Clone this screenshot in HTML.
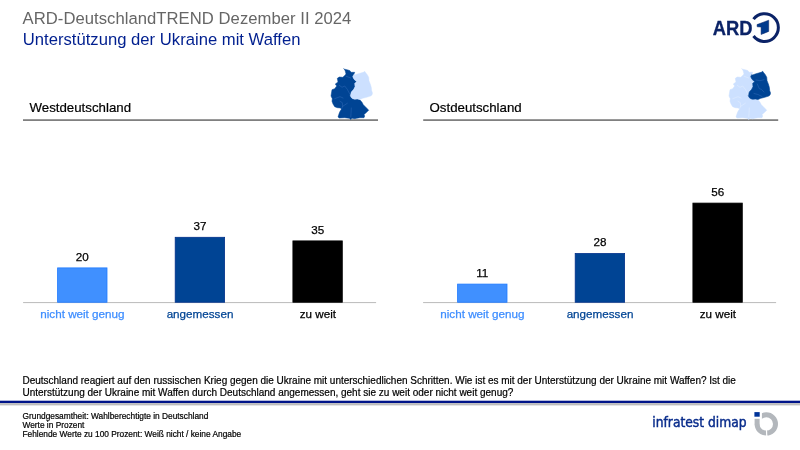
<!DOCTYPE html>
<html lang="de">
<head>
<meta charset="utf-8">
<title>ARD-DeutschlandTREND Dezember II 2024 – Unterstützung der Ukraine mit Waffen</title>
<style>
html,body{margin:0;padding:0;background:#fff;}
body{width:800px;height:450px;overflow:hidden;}
svg{display:block;}
text{font-family:"Liberation Sans",sans-serif;}
.t1{font-size:16.67px;fill:#666;}
.t2{font-size:16.67px;fill:#001f8f;}
.sec{font-size:13.28px;fill:#000;stroke:#000;stroke-width:0.2px;}
.val{font-size:11.67px;fill:#000;text-anchor:middle;stroke:#000;stroke-width:0.25px;}
.cat{font-size:11.67px;text-anchor:middle;fill:currentColor;stroke:currentColor;stroke-width:0.25px;}
.q{font-size:10px;fill:#000;stroke:#000;stroke-width:0.2px;}
.fn{font-size:8.33px;fill:#000;stroke:#000;stroke-width:0.2px;}
</style>
</head>
<body>
<svg width="800" height="450" viewBox="0 0 800 450">
<rect width="800" height="450" fill="#fff"/>

<!-- titles -->
<text class="t1" x="22.6" y="0" transform="translate(0 24.1) scale(1 1.045)" textLength="328.8" lengthAdjust="spacing">ARD-DeutschlandTREND Dezember II 2024</text>
<text class="t2" x="22.8" y="0" transform="translate(0 44.5) scale(1 1.045)">Unterstützung der Ukraine mit Waffen</text>

<!-- ARD logo -->
<g id="ardlogo">
<text x="712.8" y="34.7" style="font-size:20px;font-weight:bold;fill:#0b2367;stroke:#0b2367;stroke-width:0.3px;" textLength="39.8" lengthAdjust="spacingAndGlyphs">ARD</text>
<path d="M753.5 19.2 A13.85 13.85 0 1 1 753.5 36.0" fill="none" stroke="#0b2367" stroke-width="3"/>
<path d="M757 24.6 L768.7 20.2 L768.7 31.4 L761.1 34.5 L761.1 27.0 L757.2 26.8 Z" fill="#003a8c" stroke="#0b2367" stroke-width="0.5" stroke-linejoin="miter"/>
</g>

<!-- section headers -->
<text class="sec" x="29.5" y="111.5">Westdeutschland</text>
<rect x="23" y="119.25" width="355" height="1.7" fill="#7a7a7a"/>
<text class="sec" x="429.5" y="111.5">Ostdeutschland</text>
<rect x="423.2" y="119.25" width="355" height="1.7" fill="#7a7a7a"/>

<!-- map west -->
<g id="mapw" stroke-linejoin="round">
<path d="M344.7 69.7 L343.6 68.7 L344.6 69.2 L348 70 L350 70.7 L351 72.3 L354.7 72.3 L353.7 74.7 L352.7 76.7 L354 79.3 L356.7 81.7 L354.7 83.3 L355 86.7 L353.7 89.3 L351.3 92 L351 93.3 L350.3 95.3 L351 97.3 L352.7 98.7 L354.7 99.3 L357.3 99 L360 100 L362 102.3 L363.3 104.7 L365.3 106.7 L367.3 108.7 L368.7 110.3 L366 112.7 L364 114.7 L364.7 116 L364 117.7 L360 117.7 L356.7 118.3 L354.7 118.7 L352 118.3 L350.7 119.5 L349.3 118.3 L344.7 117.7 L339.3 118 L338 117 L338.7 114.7 L339.7 112 L341.3 109.3 L340.7 108 L337.3 107.7 L334.7 106.7 L333 104 L332 101.3 L332.3 98.7 L331 96 L331.3 94 L332 89.7 L334.7 88.7 L336.7 86 L335.3 84 L338 82 L337.3 78.3 L339.3 77 L342.7 77.3 L344.3 76 L346 74 L345.3 71.3 Z" fill="#004494" stroke="#004494" stroke-width="0.5"/>
<path d="M354.7 75 L357.3 74 L360.7 73 L363.3 72.3 L364.7 71.3 L365.7 72.7 L367.3 74.7 L368.7 77.3 L369 80.7 L370.3 84 L371.3 87.3 L371.7 90.7 L372.5 93 L372 95 L370.7 96 L366.7 97.3 L362.7 98.3 L360 99.5 L357.3 99 L354.7 99.3 L352.7 98.7 L351 97.3 L350.3 95.3 L351 93.3 L351.3 92 L353.7 89.3 L355 86.7 L354.7 83.3 L356.7 81.7 L354 79.3 L352.7 76.7 L353.7 74.7 Z" fill="#cce0ff" stroke="#cce0ff" stroke-width="0.4"/>
<path d="M346 76.2 L350.7 78 M339.3 85.3 L342 87.3 L344.7 86 L347.3 89.3 L348.7 92 L350.5 95 M334.7 98.7 L340 96.7 L343 98 M340 101.3 L342.3 102.7 L342.7 106.3 L347.3 103.3 M342.7 106.3 L341.5 109 M351.3 108 L351 113.3 L350.8 117" fill="none" stroke="#3f74bf" stroke-width="0.4" stroke-linecap="round"/>
</g>
<!-- map east -->
<g id="mape" transform="translate(398,0)" stroke-linejoin="round">
<path d="M344.7 69.7 L343.6 68.7 L344.6 69.2 L348 70 L350 70.7 L351 72.3 L354.7 72.3 L353.7 74.7 L352.7 76.7 L354 79.3 L356.7 81.7 L354.7 83.3 L355 86.7 L353.7 89.3 L351.3 92 L351 93.3 L350.3 95.3 L351 97.3 L352.7 98.7 L354.7 99.3 L357.3 99 L360 100 L362 102.3 L363.3 104.7 L365.3 106.7 L367.3 108.7 L368.7 110.3 L366 112.7 L364 114.7 L364.7 116 L364 117.7 L360 117.7 L356.7 118.3 L354.7 118.7 L352 118.3 L350.7 119.5 L349.3 118.3 L344.7 117.7 L339.3 118 L338 117 L338.7 114.7 L339.7 112 L341.3 109.3 L340.7 108 L337.3 107.7 L334.7 106.7 L333 104 L332 101.3 L332.3 98.7 L331 96 L331.3 94 L332 89.7 L334.7 88.7 L336.7 86 L335.3 84 L338 82 L337.3 78.3 L339.3 77 L342.7 77.3 L344.3 76 L346 74 L345.3 71.3 Z" fill="#cce0ff" stroke="#cce0ff" stroke-width="0.5"/>
<path d="M354.7 75 L357.3 74 L360.7 73 L363.3 72.3 L364.7 71.3 L365.7 72.7 L367.3 74.7 L368.7 77.3 L369 80.7 L370.3 84 L371.3 87.3 L371.7 90.7 L372.5 93 L372 95 L370.7 96 L366.7 97.3 L362.7 98.3 L360 99.5 L357.3 99 L354.7 99.3 L352.7 98.7 L351 97.3 L350.3 95.3 L351 93.3 L351.3 92 L353.7 89.3 L355 86.7 L354.7 83.3 L356.7 81.7 L354 79.3 L352.7 76.7 L353.7 74.7 Z" fill="#004494" stroke="#004494" stroke-width="0.6"/>
<path d="M346 76.2 L350.7 78 M339.3 85.3 L342 87.3 L344.7 86 L347.3 89.3 L348.7 92 L350.5 95 M334.7 98.7 L340 96.7 L343 98 M340 101.3 L342.3 102.7 L342.7 106.3 L347.3 103.3 M342.7 106.3 L341.5 109 M351.3 108 L351 113.3 L350.8 117" fill="none" stroke="#eaf2ff" stroke-width="0.4" stroke-linecap="round"/>
<path d="M358 80 L362 80.7 L366 79.7 M359.3 84 L361.3 88.7 L363.3 89.3 L366 92 M356 93.5 L360 94.5 L364 96.5" fill="none" stroke="#3f74bf" stroke-width="0.4" stroke-linecap="round"/>
</g>

<!-- axis lines -->
<rect x="23.1" y="302" width="353" height="1.1" fill="#c0c0c0"/>
<rect x="423.1" y="302" width="353" height="1.1" fill="#c0c0c0"/>

<!-- bars west -->
<rect x="57.6" y="267.9" width="49.4" height="34.35" fill="#4090ff" stroke="#1f7aff" stroke-width="0.8"/>
<rect x="175.2" y="237.3" width="49.4" height="64.95" fill="#004494" stroke="#00308a" stroke-width="0.8"/>
<rect x="292.9" y="240.9" width="49.4" height="61.35" fill="#000" stroke="#000" stroke-width="0.8"/>
<text class="val" x="82.3" y="260.7">20</text>
<text class="val" x="199.9" y="230.1">37</text>
<text class="val" x="317.7" y="233.7">35</text>
<text class="cat" x="82.4" y="318.0" style="color:#3d8dff">nicht weit genug</text>
<text class="cat" x="200.0" y="318.0" style="color:#004494">angemessen</text>
<text class="cat" x="317.9" y="318.0" style="color:#000">zu weit</text>

<!-- bars east -->
<rect x="457.6" y="284.1" width="49.4" height="18.15" fill="#4090ff" stroke="#1f7aff" stroke-width="0.8"/>
<rect x="575.2" y="253.5" width="49.4" height="48.75" fill="#004494" stroke="#00308a" stroke-width="0.8"/>
<rect x="692.9" y="203.1" width="49.4" height="99.15" fill="#000" stroke="#000" stroke-width="0.8"/>
<text class="val" x="482.3" y="276.9">11</text>
<text class="val" x="599.9" y="246.3">28</text>
<text class="val" x="717.7" y="195.9">56</text>
<text class="cat" x="482.4" y="318.0" style="color:#3d8dff">nicht weit genug</text>
<text class="cat" x="600.0" y="318.0" style="color:#004494">angemessen</text>
<text class="cat" x="717.9" y="318.0" style="color:#000">zu weit</text>

<!-- question -->
<text class="q" x="22.5" y="384.3" textLength="713.4" lengthAdjust="spacing">Deutschland reagiert auf den russischen Krieg gegen die Ukraine mit unterschiedlichen Schritten. Wie ist es mit der Unterstützung der Ukraine mit Waffen? Ist die</text>
<text class="q" x="22.5" y="395.9">Unterstützung der Ukraine mit Waffen durch Deutschland angemessen, geht sie zu weit oder nicht weit genug?</text>

<!-- blue rule -->
<rect x="0" y="400.7" width="800" height="2.4" fill="#001489"/>
<rect x="0" y="403.1" width="800" height="2.3" fill="#bdbdbd"/>

<!-- footnotes -->
<text class="fn" x="22.5" y="418.5">Grundgesamtheit: Wahlberechtigte in Deutschland</text>
<text class="fn" x="22.5" y="427.5">Werte in Prozent</text>
<text class="fn" x="22.5" y="436.5">Fehlende Werte zu 100 Prozent: Weiß nicht / keine Angabe</text>

<!-- infratest dimap logo -->
<g id="infratest">
<text x="652.3" y="427" style="font-family:'DejaVu Sans Condensed','Liberation Sans',sans-serif;font-size:14.3px;fill:#0a2d8c;stroke:#0a2d8c;stroke-width:0.45px;" textLength="94.3" lengthAdjust="spacingAndGlyphs">infratest dimap</text>
<circle cx="766.3" cy="423.9" r="9.2" fill="none" stroke="#b3b7bc" stroke-width="5"/>
<rect x="752" y="410" width="9.9" height="13.9" fill="#fff"/>
<rect x="754.6" y="418.8" width="5" height="5.6" fill="#b3b7bc"/>
<path d="M765.8 428 L767.0 428 L767.4 437 L766.2 437 Z" fill="#fff"/>
<rect x="754.4" y="412.1" width="5.3" height="4.6" fill="#003399"/>
</g>
</svg>
</body>
</html>
